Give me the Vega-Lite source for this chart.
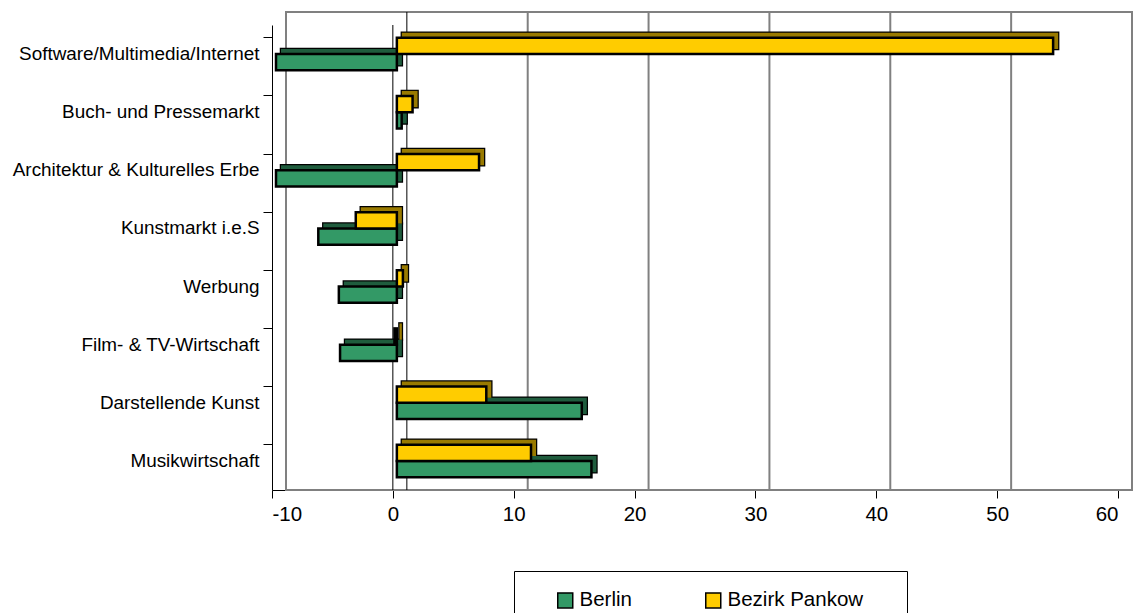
{
  "$schema": "https://vega.github.io/schema/vega-lite/v6.json",
  "width": 846,
  "height": 465,
  "autosize": "none",
  "padding": {"left": 272, "top": 25, "right": 16, "bottom": 123},
  "background": "white",
  "config": {
    "font": "Liberation Sans",
    "view": {"stroke": null}
  },
  "datasets": {
    "bars": [
      {"Branche": "Software/Multimedia/Internet", "Region": "Berlin", "Wert": -10.0},
      {"Branche": "Software/Multimedia/Internet", "Region": "Bezirk Pankow", "Wert": 54.3},
      {"Branche": "Buch- und Pressemarkt ", "Region": "Berlin", "Wert": 0.4},
      {"Branche": "Buch- und Pressemarkt ", "Region": "Bezirk Pankow", "Wert": 1.3},
      {"Branche": "Architektur & Kulturelles Erbe", "Region": "Berlin", "Wert": -10.0},
      {"Branche": "Architektur & Kulturelles Erbe", "Region": "Bezirk Pankow", "Wert": 6.8},
      {"Branche": "Kunstmarkt i.e.S", "Region": "Berlin", "Wert": -6.5},
      {"Branche": "Kunstmarkt i.e.S", "Region": "Bezirk Pankow", "Wert": -3.4},
      {"Branche": "Werbung", "Region": "Berlin", "Wert": -4.8},
      {"Branche": "Werbung", "Region": "Bezirk Pankow", "Wert": 0.5},
      {"Branche": "Film- & TV-Wirtschaft ", "Region": "Berlin", "Wert": -4.7},
      {"Branche": "Film- & TV-Wirtschaft ", "Region": "Bezirk Pankow", "Wert": -0.2},
      {"Branche": "Darstellende Kunst", "Region": "Berlin", "Wert": 15.3},
      {"Branche": "Darstellende Kunst", "Region": "Bezirk Pankow", "Wert": 7.4},
      {"Branche": "Musikwirtschaft", "Region": "Berlin", "Wert": 16.1},
      {"Branche": "Musikwirtschaft", "Region": "Bezirk Pankow", "Wert": 11.1}
    ],
    "grid": [{"g": 10}, {"g": 20}, {"g": 30}, {"g": 40}, {"g": 50}],
    "one": [{"k": 1}]
  },
  "resolve": {"scale": {"yOffset": "independent"}},
  "layer": [
    {
      "data": {"name": "one"},
      "mark": {"type": "rect", "fill": null, "stroke": "#808080", "strokeWidth": 2, "xOffset": 14, "x2Offset": 14, "yOffset": -13, "y2Offset": -13},
      "encoding": {
        "x": {"datum": -10, "type": "quantitative", "scale": {"domain": [-10, 60]}},
        "x2": {"datum": 60}
      }
    },
    {
      "data": {"name": "grid"},
      "mark": {"type": "rule", "stroke": "#808080", "strokeWidth": 2, "xOffset": 14, "yOffset": -13, "y2Offset": -13},
      "encoding": {
        "x": {"field": "g", "type": "quantitative"}
      }
    },
    {
      "data": {"name": "one"},
      "mark": {"type": "rule", "stroke": "black", "strokeWidth": 1, "xOffset": 14, "yOffset": -13, "y2Offset": -13},
      "encoding": {
        "x": {"datum": 0, "type": "quantitative"}
      }
    },
    {
      "data": {"name": "one"},
      "mark": {"type": "rule", "stroke": "black", "strokeWidth": 1},
      "encoding": {
        "x": {"datum": 0, "type": "quantitative"}
      }
    },
    {
      "data": {"name": "bars"},
      "mark": {"type": "bar", "color": "black", "stroke": "black", "strokeWidth": 2.5, "xOffset": 9, "x2Offset": 9},
      "encoding": {
        "y": {"field": "Branche", "type": "nominal", "sort": null},
        "yOffset": {"field": "Region", "type": "nominal", "sort": ["Bezirk Pankow", "Berlin"], "scale": {"range": [-5, 27.5]}},
        "x": {"field": "Wert", "type": "quantitative"}
      }
    },
    {
      "data": {"name": "bars"},
      "mark": {"type": "bar", "fillOpacity": 0.6, "strokeWidth": 0, "xOffset": 9, "x2Offset": 9},
      "encoding": {
        "y": {"field": "Branche", "type": "nominal", "sort": null},
        "yOffset": {"field": "Region", "type": "nominal", "sort": ["Bezirk Pankow", "Berlin"], "scale": {"range": [-5, 27.5]}},
        "x": {"field": "Wert", "type": "quantitative"},
        "color": {"field": "Region", "type": "nominal"}
      }
    },
    {
      "data": {"name": "bars"},
      "mark": {"type": "bar", "stroke": "black", "strokeWidth": 2.5, "xOffset": 4, "x2Offset": 4},
      "encoding": {
        "y": {
          "field": "Branche",
          "type": "nominal",
          "sort": null,
          "scale": {"paddingInner": 0.44, "paddingOuter": 0.22},
          "axis": {
            "title": null,
            "labelFontSize": 18.9,
            "labelColor": "black",
            "labelPadding": 4,
            "tickSize": 9,
            "tickColor": "black",
            "domainColor": "black",
            "bandPosition": 0,
            "labelLimit": 300
          }
        },
        "yOffset": {
          "field": "Region",
          "type": "nominal",
          "sort": ["Bezirk Pankow", "Berlin"]
        },
        "x": {
          "field": "Wert",
          "type": "quantitative",
          "scale": {"domain": [-10, 60], "nice": false, "zero": false},
          "axis": {
            "title": null,
            "values": [-10, 0, 10, 20, 30, 40, 50, 60],
            "labelExpr": "replace(datum.label, '−', '-')",
            "grid": false,
            "labelFontSize": 20.5,
            "labelColor": "black",
            "labelPadding": 6,
            "tickSize": 8,
            "tickColor": "black",
            "domainColor": "black"
          }
        },
        "color": {
          "field": "Region",
          "type": "nominal",
          "scale": {"domain": ["Berlin", "Bezirk Pankow"], "range": ["#339966", "#FFCC00"]},
          "legend": {
            "title": " ",
            "titleOrient": "right",
            "titleFontSize": 20.5,
            "titlePadding": 25,
            "orient": "none",
            "legendX": 242,
            "legendY": 546,
            "direction": "horizontal",
            "symbolType": "square",
            "symbolSize": 225,
            "symbolStrokeColor": "black",
            "symbolStrokeWidth": 1.5,
            "symbolOpacity": 1,
            "symbolFillColor": null,
            "symbolOffset": 22,
            "labelFontSize": 20.5,
            "labelColor": "black",
            "labelOffset": 4,
            "columnPadding": 49,
            "padding": 19,
            "strokeColor": "black",
            "fillColor": "white"
          }
        }
      }
    }
  ]
}
